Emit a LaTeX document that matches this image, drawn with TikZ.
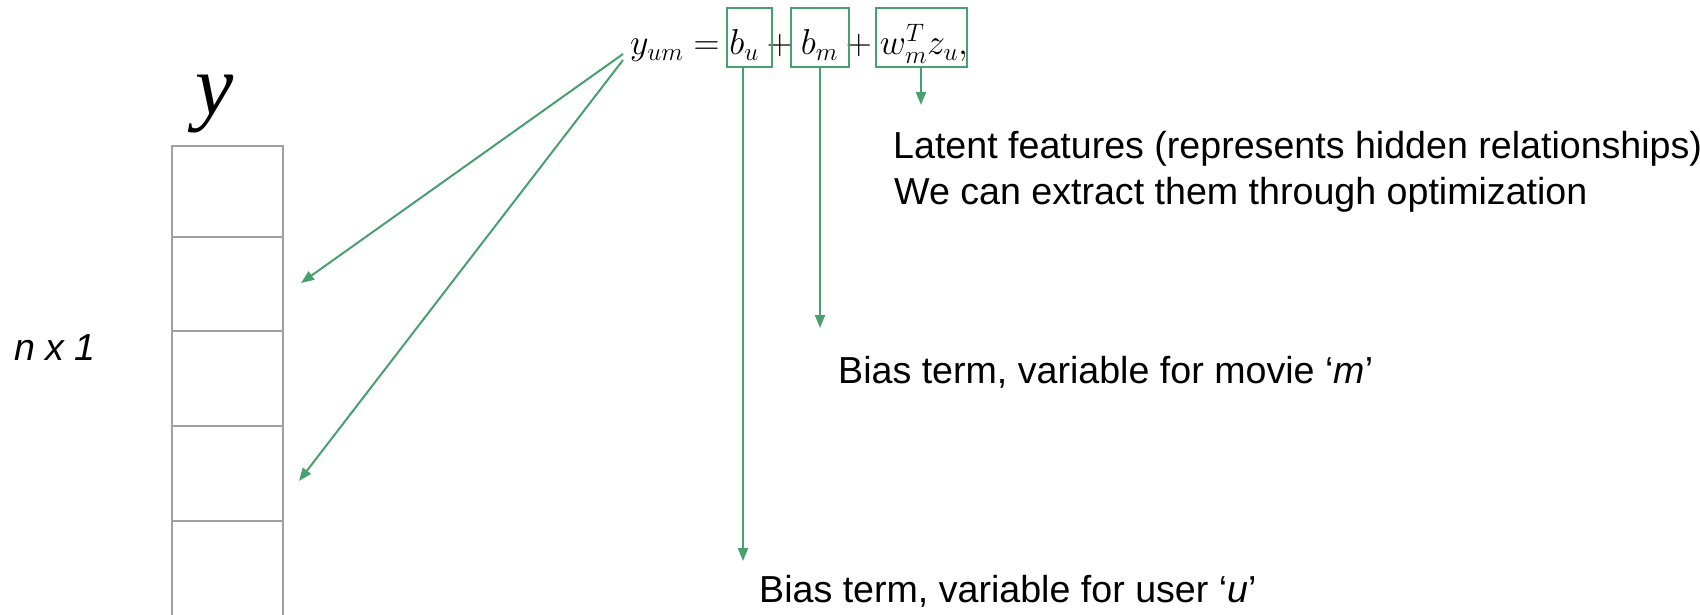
\RequirePackage{fix-cm}
\documentclass[tikz,border=0pt]{standalone}
\usepackage[no-math]{fontspec}
\setmainfont{Liberation Sans}
\newfontfamily\serifface{Liberation Serif}
\usetikzlibrary{arrows.meta}

\definecolor{linkgreen}{RGB}{72,160,110}
\definecolor{cellgray}{RGB}{160,160,160}

\begin{document}
\begin{tikzpicture}[x=1pt, y=-1pt,
  cell/.style={draw=cellgray, line width=2pt, minimum width=111pt, inner sep=0pt, outer sep=0pt},
  termbox/.style={draw=linkgreen, line width=2pt, minimum height=59pt, inner sep=0pt, outer sep=0pt},
  link/.style={draw=linkgreen, line width=2pt, -{Triangle[length=13pt,width=10pt]}},
  label/.style={font=\fontsize{37.6}{45}\selectfont, inner sep=0pt, anchor=base west},
  eqn/.style={font=\fontsize{36}{43}\selectfont, inner sep=0pt, anchor=base west}
]
\useasboundingbox (0,0) rectangle (1700,615);

% the column vector y
\node[inner sep=0pt, anchor=base west, font=\serifface\itshape\fontsize{86}{90}\selectfont] (ylabel) at (195,115) {y};
\node[cell, minimum height=91pt] (c1) at (227.5,191.5) {};
\node[cell, minimum height=94pt] (c2) at (227.5,284) {};
\node[cell, minimum height=95pt] (c3) at (227.5,378.5) {};
\node[cell, minimum height=95pt] (c4) at (227.5,473.5) {};
\node[cell, minimum height=95pt] (c5) at (227.5,568.5) {};
\node[label, font=\itshape\fontsize{37.6}{45}\selectfont] (dims) at (14,360) {n x 1};

% the rating model
\node[eqn] (eq) at (630,55) {$y_{um} = b_u + b_m + w_m^T z_u,$};
\node[termbox, minimum width=45pt] (bu) at (749.5,37.5) {};
\node[termbox, minimum width=58pt] (bm) at (820,37.5) {};
\node[termbox, minimum width=91pt] (wz) at (921.5,37.5) {};

% explanations
\node[label] (latent1) at (893,159) {Latent features (represents hidden relationships)};
\node[label] (latent2) at (894,204) {We can extract them through optimization};
\node[label] (movie) at (838,383) {Bias term, variable for movie ‘\textit{m}’};
\node[label] (user) at (759,602) {Bias term, variable for user ‘\textit{u}’};

% connector end points
\coordinate (yfromA) at (623,54);
\coordinate (yfromB) at (623,60);
\coordinate (intoC2) at (301,283);
\coordinate (intoC4) at (299,481);
\coordinate (uend) at (743,561);
\coordinate (mend) at (820,328);
\coordinate (lend) at (921,105);

\draw[link] (yfromA) -- (intoC2);
\draw[link] (yfromB) -- (intoC4);
\draw[link] (bu.south -| uend) -- (uend);
\draw[link] (bm.south -| mend) -- (mend);
\draw[link] (wz.south -| lend) -- (lend);
\end{tikzpicture}
\end{document}
